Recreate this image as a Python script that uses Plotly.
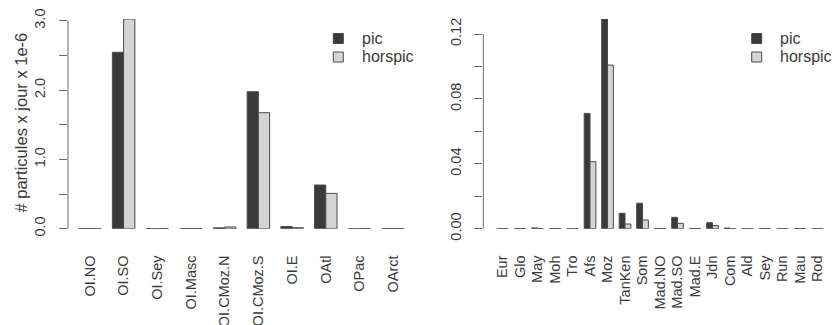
import plotly.graph_objects as go

# Left panel data (units: particules x jour x 1e-6)
zones = ["OI.NO", "OI.SO", "OI.Sey", "OI.Masc", "OI.CMoz.N", "OI.CMoz.S", "OI.E", "OAtl", "OPac", "OArct"]
zones_pic = [0.0, 2.545, 0.0, 0.0, 0.012, 1.977, 0.03, 0.63, 0.0, 0.0]
zones_horspic = [0.0, 3.026, 0.0, 0.0, 0.025, 1.674, 0.015, 0.51, 0.0, 0.0]

# Right panel data
sites = ["Eur", "Glo", "May", "Moh", "Tro", "Afs", "Moz", "TanKen", "Som", "Mad.NO",
         "Mad.SO", "Mad.E", "Jdn", "Com", "Ald", "Sey", "Run", "Mau", "Rod"]
sites_pic = [0.0, 0.0, 0.0005, 0.0, 0.0, 0.0711, 0.1293, 0.0095, 0.0157, 0.0,
             0.0070, 0.0, 0.0037, 0.0004, 0.0, 0.0, 0.0, 0.0, 0.0]
sites_horspic = [0.0, 0.0, 0.0, 0.0, 0.0, 0.0413, 0.1009, 0.0029, 0.0054, 0.0,
                 0.0033, 0.0, 0.0019, 0.0, 0.0, 0.0, 0.0, 0.0, 0.0]

series_names = ["pic", "horspic"]

left_ticks = [0.0, 0.5, 1.0, 1.5, 2.0, 2.5, 3.0]
left_ticktext = ["0.0", "", "1.0", "", "2.0", "", "3.0"]
right_ticks = [0.0, 0.02, 0.04, 0.06, 0.08, 0.10, 0.12]
right_ticktext = ["0.00", "", "0.04", "", "0.08", "", "0.12"]

y_title = "# particules x jour x 1e-6"

DARK = "#3a3a3a"
LIGHT = "#d4d4d4"
EDGE = "#4a4a4a"
AXIS = "#6a6a6a"
TEXT = "#3a3a3a"
FONT = "Liberation Sans, Arial, sans-serif"
COLORS = [DARK, LIGHT]

W, H = 836, 325


def px(p):
    return p / W


def py(p):
    return 1 - p / H


fig = go.Figure()
line = dict(color=EDGE, width=1)
for name, col, vals in zip(series_names, COLORS, [zones_pic, zones_horspic]):
    fig.add_bar(x=zones, y=vals, name=name, marker=dict(color=col, line=line),
                xaxis="x", yaxis="y", showlegend=False)
for name, col, vals in zip(series_names, COLORS, [sites_pic, sites_horspic]):
    fig.add_bar(x=sites, y=vals, name=name, marker=dict(color=col, line=line),
                xaxis="x2", yaxis="y2", showlegend=False)

ydom = [py(228.7), py(19)]

xcommon = dict(showline=False, showgrid=False, zeroline=False, ticks="outside",
               ticklen=0, tickangle=-90, ticklabelstandoff=20,
               tickfont=dict(size=14.5, color=TEXT, family=FONT), automargin=False)
ycommon = dict(showline=False, showgrid=False, zeroline=False, ticks="outside",
               ticklen=8, tickwidth=1, tickcolor=AXIS, tickangle=-90, ticklabelstandoff=8,
               tickfont=dict(size=14.5, color=TEXT, family=FONT), automargin=False)

fig.update_layout(
    width=W, height=H,
    margin=dict(l=0, r=0, t=0, b=0),
    paper_bgcolor="white", plot_bgcolor="white",
    barmode="group", bargap=1/3, bargroupgap=0,
    font=dict(family=FONT, color=TEXT),
    xaxis=dict(domain=[px(68), px(413.4)], range=[-0.65, 9.6], anchor="y", **xcommon),
    yaxis=dict(domain=ydom, range=[0, 3.026], anchor="x", tickvals=left_ticks,
               ticktext=left_ticktext, **ycommon),
    xaxis2=dict(domain=[px(483.3), px(828)], range=[-1.1, 18.6], anchor="y2", **xcommon),
    yaxis2=dict(domain=ydom, range=[0, 0.1293], anchor="x2", tickvals=right_ticks,
                ticktext=right_ticktext, **ycommon),
    showlegend=False,
)

# R-style axis lines spanning only the tick range
fig.add_shape(type="line", xref="x domain", yref="y", x0=0, x1=0,
              y0=min(left_ticks), y1=max(left_ticks), line=dict(color=AXIS, width=1))
fig.add_shape(type="line", xref="x2 domain", yref="y2", x0=0, x1=0,
              y0=min(right_ticks), y1=max(right_ticks), line=dict(color=AXIS, width=1))

# R-style legends (one per panel)
for sq_left, txt_left in [(333.3, 360), (751.7, 777.7)]:
    for i, (name, col) in enumerate(zip(series_names, COLORS)):
        cy = 38.5 + i * 18.5
        fig.add_shape(type="rect", xref="paper", yref="paper",
                      x0=px(sq_left), x1=px(sq_left + 10), y0=py(cy - 5), y1=py(cy + 5),
                      fillcolor=col, line=dict(color=EDGE, width=1))
        fig.add_annotation(text=name, xref="paper", yref="paper", x=px(txt_left), y=py(cy),
                           xanchor="left", yanchor="middle", showarrow=False,
                           font=dict(size=16, color=TEXT, family=FONT))

fig.add_annotation(text=y_title, textangle=-90, xref="paper", yref="paper",
                   x=px(20), y=py(122.5), xanchor="center", yanchor="middle", showarrow=False,
                   font=dict(size=16.5, color=TEXT, family=FONT))

fig.write_html("out.html", config={"displayModeBar": False},
               post_script="document.body.style.margin='0';document.body.style.overflow='hidden';")
